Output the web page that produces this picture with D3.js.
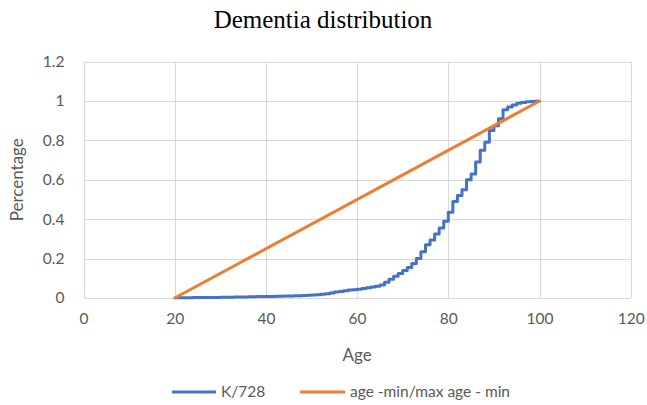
<!DOCTYPE html>
<html>
<head>
<meta charset="utf-8">
<script src="https://cdn.jsdelivr.net/npm/d3@7"></script>
<style>
  html, body { margin: 0; padding: 0; background: #fff; }
  svg { display: block; }
</style>
</head>
<body>
<svg id="chart" width="647" height="405"></svg>
<script>
// ---- data ----
const chartTitle = "Dementia distribution";
const xTicks = [0, 20, 40, 60, 80, 100, 120];
const yTicks = [0, 0.2, 0.4, 0.6, 0.8, 1, 1.2];
const yTickLabels = ["0", "0.2", "0.4", "0.6", "0.8", "1", "1.2"];
const seriesNames = ["K/728", "age -min/max age - min"];
const ages = [20,21,22,23,24,25,26,27,28,29,30,31,32,33,34,35,36,37,38,39,40,41,42,43,44,45,46,47,48,49,50,51,52,53,54,55,56,57,58,59,60,61,62,63,64,65,66,67,68,69,70,71,72,73,74,75,76,77,78,79,80,81,82,83,84,85,86,87,88,89,90,91,92,93,94,95,96,97,98,99,100];
const cumShare = [0.001,0.001,0.001,0.001,0.002,0.002,0.002,0.003,0.003,0.003,0.004,0.004,0.004,0.005,0.005,0.005,0.006,0.006,0.007,0.007,0.008,0.008,0.009,0.009,0.010,0.010,0.011,0.012,0.013,0.014,0.015,0.017,0.019,0.022,0.026,0.030,0.033,0.037,0.040,0.042,0.045,0.048,0.052,0.056,0.060,0.066,0.080,0.095,0.110,0.125,0.140,0.155,0.175,0.200,0.235,0.270,0.295,0.325,0.355,0.390,0.435,0.490,0.520,0.550,0.600,0.630,0.690,0.750,0.790,0.850,0.875,0.910,0.955,0.970,0.980,0.988,0.993,0.996,0.998,0.999,1.000];
const refAges = [20, 100];
const refShare = [0, 1];

// ---- layout ----
const svg = d3.select("#chart");
const W = 647, H = 405;
const plot = { left: 83.5, right: 630.7, top: 61.6, bottom: 298 };
const x = d3.scaleLinear().domain([0, 120]).range([plot.left, plot.right]);
const y = d3.scaleLinear().domain([0, 1.2]).range([plot.bottom, plot.top]);
const grid = "#d9d9d9";
const textCol = "#595959";
const font = "Lato, 'Open Sans', sans-serif";
const blue = "#4472C4", orange = "#ED7D31";

svg.append("rect").attr("width", W).attr("height", H).attr("fill", "#fff");

// title
svg.append("text").attr("x", 323).attr("y", 28).attr("text-anchor", "middle")
  .attr("font-family", "'Liberation Serif', 'Times New Roman', serif")
  .attr("font-size", 25).attr("fill", "#000").text(chartTitle);

// gridlines
svg.append("g").selectAll("line").data(yTicks).join("line")
  .attr("x1", plot.left).attr("x2", plot.right)
  .attr("y1", d => Math.round(y(d)) + 0.5).attr("y2", d => Math.round(y(d)) + 0.5)
  .attr("stroke", grid).attr("stroke-width", 1);
svg.append("g").selectAll("line").data(xTicks).join("line")
  .attr("y1", plot.top).attr("y2", plot.bottom)
  .attr("x1", d => Math.round(x(d)) + 0.5).attr("x2", d => Math.round(x(d)) + 0.5)
  .attr("stroke", grid).attr("stroke-width", 1);

// axes labels via d3 axes (no lines)
const xAxis = d3.axisBottom(x).tickValues(xTicks).tickSize(0).tickPadding(0).tickFormat(d3.format("d"));
const gx = svg.append("g").attr("transform", `translate(0,${plot.bottom + 21})`).call(xAxis);
gx.select(".domain").remove();
gx.selectAll("text").attr("font-family", font).attr("font-size", 15.5).attr("fill", textCol).attr("dy", "0.35em");

const yAxis = d3.axisLeft(y).tickValues(yTicks).tickSize(0).tickPadding(0).tickFormat((d, i) => yTickLabels[i]);
const gy = svg.append("g").attr("transform", `translate(${plot.left - 19},0)`).call(yAxis);
gy.select(".domain").remove();
gy.selectAll("text").attr("font-family", font).attr("font-size", 15.5).attr("fill", textCol);

// axis titles
svg.append("text").attr("x", (plot.left + plot.right) / 2).attr("y", 361).attr("text-anchor", "middle")
  .attr("font-family", font).attr("font-size", 17).attr("fill", textCol).text("Age");
svg.append("text").attr("transform", `translate(23,${(plot.top + plot.bottom) / 2}) rotate(-90)`)
  .attr("text-anchor", "middle").attr("font-family", font).attr("font-size", 17).attr("fill", textCol).text("Percentage");

// series
const kData = ages.map((a, i) => ({ a, v: cumShare[i] }));
const refData = refAges.map((a, i) => ({ a, v: refShare[i] }));

svg.append("path").datum(kData)
  .attr("d", d3.line().x(d => x(d.a)).y(d => y(d.v)).curve(d3.curveStepAfter))
  .attr("fill", "none").attr("stroke", blue).attr("stroke-width", 3).attr("stroke-linejoin", "round");

svg.append("path").datum(refData)
  .attr("d", d3.line().x(d => x(d.a)).y(d => y(d.v)))
  .attr("fill", "none").attr("stroke", orange).attr("stroke-width", 3).attr("stroke-linecap", "round");

// legend
const legend = [
  { name: seriesNames[0], color: blue, x1: 172, x2: 216, tx: 221 },
  { name: seriesNames[1], color: orange, x1: 300, x2: 345, tx: 350 }
];
const lg = svg.append("g");
legend.forEach(l => {
  lg.append("line").attr("x1", l.x1).attr("x2", l.x2).attr("y1", 392).attr("y2", 392)
    .attr("stroke", l.color).attr("stroke-width", 3);
  lg.append("text").attr("x", l.tx).attr("y", 392).attr("dy", "0.35em")
    .attr("font-family", font).attr("font-size", 15.5).attr("fill", textCol).text(l.name);
});
</script>
</body>
</html>
